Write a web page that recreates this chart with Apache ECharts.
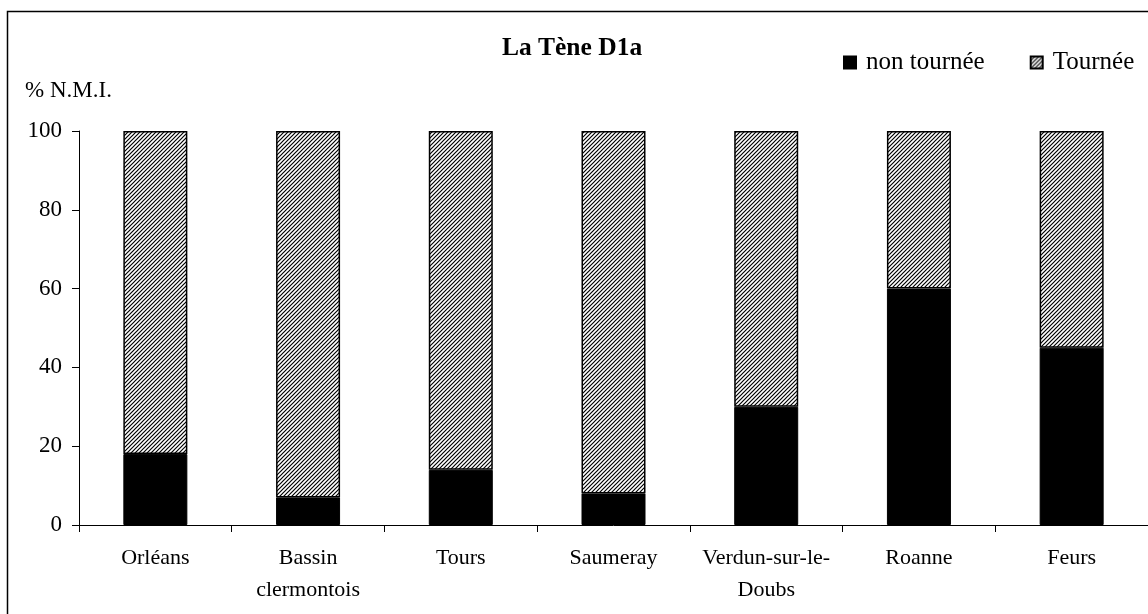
<!DOCTYPE html>
<html>
<head>
<meta charset="utf-8">
<script src="https://cdn.jsdelivr.net/npm/echarts@6/dist/echarts.min.js"></script>
<style>
  html, body { margin: 0; padding: 0; background: #fff; }
  #chart { width: 1148px; height: 614px; }
</style>
</head>
<body>
<div id="chart"></div>
<script>
// Share of non-wheel-made vs wheel-made pottery (% N.M.I.), La Tène D1a
const categories = ['Orléans', 'Bassin\nclermontois', 'Tours', 'Saumeray', 'Verdun-sur-le-\nDoubs', 'Roanne', 'Feurs'];
const nonTournee = [18, 7, 14, 8, 30, 60, 45];
const tournee = [82, 93, 86, 92, 70, 40, 55];
const yTicks = { min: 0, max: 100, interval: 20 };

const FONT = '"Liberation Serif", "Times New Roman", serif';

// Diagonal hatch tile for the wheel-made series
function hatchPattern() {
  const c = document.createElement('canvas');
  c.width = 4; c.height = 4;
  const g = c.getContext('2d');
  g.fillStyle = '#fff';
  g.fillRect(0, 0, 4, 4);
  g.strokeStyle = '#000';
  g.lineWidth = 1.2;
  g.beginPath();
  g.moveTo(-1, 5); g.lineTo(5, -1);
  g.moveTo(-1, 1); g.lineTo(1, -1);
  g.moveTo(3, 5); g.lineTo(5, 3);
  g.stroke();
  return { image: c, repeat: 'repeat' };
}

const chart = echarts.init(document.getElementById('chart'), null, { renderer: 'canvas' });

chart.setOption({
  animation: false,
  backgroundColor: '#fff',
  title: {
    text: 'La Tène D1a',
    left: 567,
    top: 30,
    textAlign: 'center',
    textStyle: { fontFamily: FONT, fontSize: 25.5, fontWeight: 'bold', color: '#000' }
  },
  legend: {
    left: 838,
    top: 45,
    itemWidth: 12,
    itemHeight: 12,
    itemGap: 45,
    icon: 'rect',
    textStyle: { fontFamily: FONT, fontSize: 25, color: '#000', padding: [0, 0, 0, 5] },
    data: ['non tournée', 'Tournée']
  },
  graphic: [
    {
      type: 'rect',
      shape: { x: 7.5, y: 11.5, width: 1300, height: 800 },
      style: { fill: 'none', stroke: '#000', lineWidth: 1.5 },
      silent: true,
      z: 100
    },
    {
      type: 'text',
      left: 25,
      top: 79,
      style: { text: '% N.M.I.', fontFamily: FONT, fontSize: 23, fill: '#000' }
    }
  ],
  grid: { left: 79, top: 131, bottom: 89, width: 1076 },
  xAxis: {
    type: 'category',
    data: categories,
    axisLine: { lineStyle: { color: '#000', width: 1 } },
    axisTick: { show: true, length: 7, lineStyle: { color: '#000' } },
    axisLabel: {
      fontFamily: FONT, fontSize: 22, color: '#000',
      lineHeight: 32, margin: 17, interval: 0
    }
  },
  yAxis: {
    type: 'value',
    min: yTicks.min,
    max: yTicks.max,
    interval: yTicks.interval,
    axisLine: { show: true, lineStyle: { color: '#000', width: 1 } },
    axisTick: { show: true, length: 7, lineStyle: { color: '#000' } },
    splitLine: { show: false },
    axisLabel: { fontFamily: FONT, fontSize: 23, color: '#000', margin: 17 }
  },
  series: [
    {
      name: 'non tournée',
      type: 'bar',
      stack: 'total',
      barWidth: 64,
      data: nonTournee,
      itemStyle: { color: '#000', borderColor: '#000', borderWidth: 1 }
    },
    {
      name: 'Tournée',
      type: 'bar',
      stack: 'total',
      barWidth: 64,
      data: tournee,
      itemStyle: { color: hatchPattern(), borderColor: '#000', borderWidth: 1.5 }
    }
  ]
});
</script>
</body>
</html>
